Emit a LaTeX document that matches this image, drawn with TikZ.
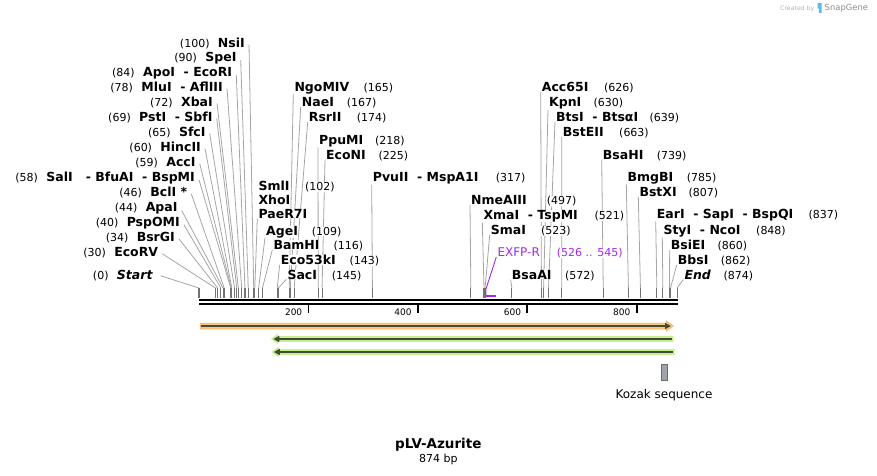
\documentclass[tikz,border=0pt]{standalone}
\usepackage{fontspec}
\setmainfont{DejaVu Sans}
\usepackage{tikz}
\usetikzlibrary{positioning,arrows.meta,backgrounds}

\definecolor{leadgray}{RGB}{165,165,165}
\definecolor{stubgray}{RGB}{115,115,115}
\definecolor{primerpurple}{RGB}{165,40,235}
\definecolor{orangehalo}{RGB}{249,200,125}
\definecolor{orangeedge}{RGB}{240,180,95}
\definecolor{greenhalo}{RGB}{196,240,140}
\definecolor{featline}{RGB}{70,72,62}
\definecolor{kozakgray}{RGB}{160,164,170}
\definecolor{snapblue}{RGB}{95,185,235}

\begin{document}
\begin{tikzpicture}[x=1pt,y=-1pt,
	enz/.style={font=\fontsize{12.5}{14}\selectfont\bfseries,inner sep=0pt,fill=white},
	sitepos/.style={font=\fontsize{11}{13}\selectfont,inner sep=0pt,fill=white},
	lead/.style={leadgray,line width=0.8pt},
	stub/.style={stubgray,line width=1.1pt}]

	\useasboundingbox (0,0) rectangle (877,475);

	% sites, 199 + 0.547 per bp
	\coordinate (s0) at ({199+0.547*0},288);
	\coordinate (s30) at ({199+0.547*30},288);
	\coordinate (s34) at ({199+0.547*34},288);
	\coordinate (s40) at ({199+0.547*40},288);
	\coordinate (s44) at ({199+0.547*44},288);
	\coordinate (s46) at ({199+0.547*46},288);
	\coordinate (s58) at ({199+0.547*58},288);
	\coordinate (s59) at ({199+0.547*59},288);
	\coordinate (s60) at ({199+0.547*60},288);
	\coordinate (s65) at ({199+0.547*65},288);
	\coordinate (s69) at ({199+0.547*69},288);
	\coordinate (s72) at ({199+0.547*72},288);
	\coordinate (s78) at ({199+0.547*78},288);
	\coordinate (s84) at ({199+0.547*84},288);
	\coordinate (s90) at ({199+0.547*90},288);
	\coordinate (s100) at ({199+0.547*100},288);
	\coordinate (s102) at ({199+0.547*102},288);
	\coordinate (s109) at ({199+0.547*109},288);
	\coordinate (s116) at ({199+0.547*116},288);
	\coordinate (s143) at ({199+0.547*143},288);
	\coordinate (s145) at ({199+0.547*145},288);
	\coordinate (s165) at ({199+0.547*165},288);
	\coordinate (s167) at ({199+0.547*167},288);
	\coordinate (s174) at ({199+0.547*174},288);
	\coordinate (s218) at ({199+0.547*218},288);
	\coordinate (s225) at ({199+0.547*225},288);
	\coordinate (s317) at ({199+0.547*317},288);
	\coordinate (s497) at ({199+0.547*497},288);
	\coordinate (s521) at ({199+0.547*521},288);
	\coordinate (s523) at ({199+0.547*523},288);
	\coordinate (s572) at ({199+0.547*572},288);
	\coordinate (s626) at ({199+0.547*626},288);
	\coordinate (s630) at ({199+0.547*630},288);
	\coordinate (s639) at ({199+0.547*639},288);
	\coordinate (s663) at ({199+0.547*663},288);
	\coordinate (s739) at ({199+0.547*739},288);
	\coordinate (s785) at ({199+0.547*785},288);
	\coordinate (s807) at ({199+0.547*807},288);
	\coordinate (s837) at ({199+0.547*837},288);
	\coordinate (s848) at ({199+0.547*848},288);
	\coordinate (s860) at ({199+0.547*860},288);
	\coordinate (s862) at ({199+0.547*862},288);
	\coordinate (s874) at ({199+0.547*874},288);

	\draw[stub] (s0)--++(0,10) (s30)--++(0,10) (s34)--++(0,10) (s40)--++(0,10)
		(s44)--++(0,10) (s46)--++(0,10) (s58)--++(0,10) (s59)--++(0,10)
		(s60)--++(0,10) (s65)--++(0,10) (s69)--++(0,10) (s72)--++(0,10)
		(s78)--++(0,10) (s84)--++(0,10) (s90)--++(0,10) (s100)--++(0,10)
		(s102)--++(0,10) (s109)--++(0,10) (s116)--++(0,10) (s143)--++(0,10)
		(s145)--++(0,10) (s165)--++(0,10) (s167)--++(0,10) (s174)--++(0,10)
		(s218)--++(0,10) (s225)--++(0,10) (s317)--++(0,10) (s497)--++(0,10)
		(s521)--++(0,10) (s523)--++(0,10) (s572)--++(0,10) (s626)--++(0,10)
		(s630)--++(0,10) (s639)--++(0,10) (s663)--++(0,10) (s739)--++(0,10)
		(s785)--++(0,10) (s807)--++(0,10) (s837)--++(0,10) (s848)--++(0,10)
		(s860)--++(0,10) (s862)--++(0,10) (s874)--++(0,10);

	% ruler
	\draw[line width=2pt] (199,300.3) -- (678,300.3);
	\draw[line width=2.6pt] (199,304) -- (678,304);
	\draw[line width=1.8pt] ({199+0.547*200},305) -- ++(0,8)
		({199+0.547*400},305) -- ++(0,8)
		({199+0.547*600},305) -- ++(0,8)
		({199+0.547*800},305) -- ++(0,8);
	\node[font=\fontsize{9}{10}\selectfont,inner sep=0pt,anchor=base east] (t200) at ({193+0.547*200},315.3) {200};
	\node[font=\fontsize{9}{10}\selectfont,inner sep=0pt,anchor=base east] (t400) at ({193+0.547*400},315.3) {400};
	\node[font=\fontsize{9}{10}\selectfont,inner sep=0pt,anchor=base east] (t600) at ({193+0.547*600},315.3) {600};
	\node[font=\fontsize{9}{10}\selectfont,inner sep=0pt,anchor=base east] (t800) at ({193+0.547*800},315.3) {800};

	% left fan
	\node[enz,anchor=base east] (NsiI) at (245,47.2) {NsiI};
	\node[sitepos,base left=8pt of NsiI] (p100) {(100)};
	\node[enz,anchor=base east] (SpeI) at (236.7,61.5) {SpeI};
	\node[sitepos,base left=8pt of SpeI] (p90) {(90)};
	\node[enz,anchor=base east] (ApoI) at (232.3,76.5) {ApoI\ \ - EcoRI};
	\node[sitepos,base left=8pt of ApoI] (p84) {(84)};
	\node[enz,anchor=base east] (MluI) at (223,91.2) {MluI\ \ - AflIII};
	\node[sitepos,base left=8pt of MluI] (p78) {(78)};
	\node[enz,anchor=base east] (XbaI) at (213,106) {XbaI};
	\node[sitepos,base left=8pt of XbaI] (p72) {(72)};
	\node[enz,anchor=base east] (PstI) at (212.7,121.2) {PstI\ \ - SbfI};
	\node[sitepos,base left=8pt of PstI] (p69) {(69)};
	\node[enz,anchor=base east] (SfcI) at (205.7,136.2) {SfcI};
	\node[sitepos,base left=8pt of SfcI] (p65) {(65)};
	\node[enz,anchor=base east] (HincII) at (201,151.2) {HincII};
	\node[sitepos,base left=8pt of HincII] (p60) {(60)};
	\node[enz,anchor=base east] (AccI) at (195.7,166.2) {AccI};
	\node[sitepos,base left=8pt of AccI] (p59) {(59)};
	\node[enz,anchor=base east] (SalI) at (195,181.2) {SalI\ \ \ - BfuAI\ \ - BspMI};
	\node[sitepos,base left=8pt of SalI] (p58) {(58)};
	\node[enz,anchor=base east] (BclI) at (187.3,196.5) {BclI *};
	\node[sitepos,base left=8pt of BclI] (p46) {(46)};
	\node[enz,anchor=base east] (ApaI) at (177.7,211.8) {ApaI};
	\node[sitepos,base left=8pt of ApaI] (p44) {(44)};
	\node[enz,anchor=base east] (PspOMI) at (180,226.2) {PspOMI};
	\node[sitepos,base left=8pt of PspOMI] (p40) {(40)};
	\node[enz,anchor=base east] (BsrGI) at (175,241.5) {BsrGI};
	\node[sitepos,base left=8pt of BsrGI] (p34) {(34)};
	\node[enz,anchor=base east] (EcoRV) at (158.3,256.2) {EcoRV};
	\node[sitepos,base left=8pt of EcoRV] (p30) {(30)};
	\node[enz,anchor=base east] (Start) at (152.7,279.3) {\itshape Start};
	\node[sitepos,base left=8pt of Start] (p0) {(0)};

	% upper sites, name then position
	\node[enz,anchor=base west] (SmlI) at (258.3,190.2) {SmlI};
	\node[sitepos,anchor=base west] (p102) at (305,190.2) {(102)};
	\node[enz,anchor=base west] (XhoI) at (258.3,204) {XhoI};
	\node[enz,anchor=base west] (PaeR7I) at (258.3,218) {PaeR7I};
	\node[enz,anchor=base west] (AgeI) at (266,235) {AgeI};
	\node[sitepos,anchor=base west] (p109) at (311.7,235) {(109)};
	\node[enz,anchor=base west] (BamHI) at (273.3,249.5) {BamHI};
	\node[sitepos,anchor=base west] (p116) at (333.3,249.5) {(116)};
	\node[enz,anchor=base west] (Eco53kI) at (280.7,264.5) {Eco53kI};
	\node[sitepos,anchor=base west] (p143) at (349.3,264.5) {(143)};
	\node[enz,anchor=base west] (SacI) at (287.3,279) {SacI};
	\node[sitepos,anchor=base west] (p145) at (331.7,279) {(145)};
	\node[enz,anchor=base west] (NgoMIV) at (294.3,91.2) {NgoMIV};
	\node[sitepos,anchor=base west] (p165) at (363.3,91.2) {(165)};
	\node[enz,anchor=base west] (NaeI) at (301.7,106.8) {NaeI};
	\node[sitepos,anchor=base west] (p167) at (346.7,106.8) {(167)};
	\node[enz,anchor=base west] (RsrII) at (308.7,121.8) {RsrII};
	\node[sitepos,anchor=base west] (p174) at (356.7,121.8) {(174)};
	\node[enz,anchor=base west] (PpuMI) at (319,144.5) {PpuMI};
	\node[sitepos,anchor=base west] (p218) at (375,144.5) {(218)};
	\node[enz,anchor=base west] (EcoNI) at (326,159.5) {EcoNI};
	\node[sitepos,anchor=base west] (p225) at (378.3,159.5) {(225)};
	\node[enz,anchor=base west] (PvuII) at (372.7,181.8) {PvuII\ \ - MspA1I};
	\node[sitepos,anchor=base west] (p317) at (495.7,181.8) {(317)};
	\node[enz,anchor=base west] (NmeAIII) at (471,204.5) {NmeAIII};
	\node[sitepos,anchor=base west] (p497) at (546.7,204.5) {(497)};
	\node[enz,anchor=base west] (XmaI) at (483.3,219.5) {XmaI\ \ - TspMI};
	\node[sitepos,anchor=base west] (p521) at (594.3,219.5) {(521)};
	\node[enz,anchor=base west] (SmaI) at (490.7,234.5) {SmaI};
	\node[sitepos,anchor=base west] (p523) at (541,234.5) {(523)};
	\node[font=\fontsize{12}{14}\selectfont,inner sep=0pt,fill=white,text=primerpurple,anchor=base west] (EXFPR) at (497.3,256.8) {EXFP-R};
	\node[sitepos,text=primerpurple,anchor=base west] (p526) at (556.7,256.8) {(526 .. 545)};
	\node[enz,anchor=base west] (BsaAI) at (511.7,279.2) {BsaAI};
	\node[sitepos,anchor=base west] (p572) at (565,279.2) {(572)};
	\node[enz,anchor=base west] (Acc65I) at (541.7,91.2) {Acc65I};
	\node[sitepos,anchor=base west] (p626) at (604,91.2) {(626)};
	\node[enz,anchor=base west] (KpnI) at (549,106.8) {KpnI};
	\node[sitepos,anchor=base west] (p630) at (593.3,106.8) {(630)};
	\node[enz,anchor=base west] (BtsI) at (556,121.2) {BtsI\ \ - BtsαI};
	\node[sitepos,anchor=base west] (p639) at (649.3,121.2) {(639)};
	\node[enz,anchor=base west] (BstEII) at (562.7,136.8) {BstEII};
	\node[sitepos,anchor=base west] (p663) at (619,136.8) {(663)};
	\node[enz,anchor=base west] (BsaHI) at (602.7,159.5) {BsaHI};
	\node[sitepos,anchor=base west] (p739) at (656.7,159.5) {(739)};
	\node[enz,anchor=base west] (BmgBI) at (627.3,181.2) {BmgBI};
	\node[sitepos,anchor=base west] (p785) at (686.7,181.2) {(785)};
	\node[enz,anchor=base west] (BstXI) at (639.3,196.2) {BstXI};
	\node[sitepos,anchor=base west] (p807) at (688.3,196.2) {(807)};
	\node[enz,anchor=base west] (EarI) at (656.7,218.5) {EarI\ \ - SapI\ \ - BspQI};
	\node[sitepos,anchor=base west] (p837) at (808.3,218.5) {(837)};
	\node[enz,anchor=base west] (StyI) at (663.3,234.5) {StyI\ \ - NcoI};
	\node[sitepos,anchor=base west] (p848) at (756,234.5) {(848)};
	\node[enz,anchor=base west] (BsiEI) at (670.7,249.5) {BsiEI};
	\node[sitepos,anchor=base west] (p860) at (717.3,249.5) {(860)};
	\node[enz,anchor=base west] (BbsI) at (677.7,264.5) {BbsI};
	\node[sitepos,anchor=base west] (p862) at (720.7,264.5) {(862)};
	\node[enz,anchor=base west] (End) at (684.3,279.3) {\itshape End};
	\node[sitepos,anchor=base west] (p874) at (723.3,279.3) {(874)};

	% leaders go under the labels
	\begin{pgfonlayer}{background}
	\draw[lead] ([xshift=4pt,yshift=-2pt]NsiI.east) -- (s100);
	\draw[lead] ([xshift=4pt,yshift=-2pt]SpeI.east) -- (s90);
	\draw[lead] ([xshift=4pt,yshift=-2pt]ApoI.east) -- (s84);
	\draw[lead] ([xshift=4pt,yshift=-2pt]MluI.east) -- (s78);
	\draw[lead] ([xshift=4pt,yshift=-2pt]XbaI.east) -- (s72);
	\draw[lead] ([xshift=4pt,yshift=-2pt]PstI.east) -- (s69);
	\draw[lead] ([xshift=4pt,yshift=-2pt]SfcI.east) -- (s65);
	\draw[lead] ([xshift=4pt,yshift=-2pt]HincII.east) -- (s60);
	\draw[lead] ([xshift=4pt,yshift=-2pt]AccI.east) -- (s59);
	\draw[lead] ([xshift=4pt,yshift=-2pt]SalI.east) -- (s58);
	\draw[lead] ([xshift=4pt,yshift=-2pt]BclI.east) -- (s46);
	\draw[lead] ([xshift=4pt,yshift=-2pt]ApaI.east) -- (s44);
	\draw[lead] ([xshift=4pt,yshift=-2pt]PspOMI.east) -- (s40);
	\draw[lead] ([xshift=4pt,yshift=-2pt]BsrGI.east) -- (s34);
	\draw[lead] ([xshift=4pt,yshift=-2pt]EcoRV.east) -- (s30);
	\draw[lead] ([xshift=8pt,yshift=-1pt]Start.east) -- (s0);

	\draw[lead] ([xshift=-1pt]PaeR7I.south west) -- (s102);
	\draw[lead] ([xshift=-1pt]AgeI.south west) -- (s109);
	\draw[lead] ([xshift=-1pt]BamHI.south west) -- (s116);
	\draw[lead] ([xshift=-1pt]Eco53kI.south west) -- (s143);
	\draw[lead] ([xshift=-1pt]SacI.south west) -- (s145);
	\draw[lead] ([xshift=-1pt]NgoMIV.south west) -- (s165);
	\draw[lead] ([xshift=-1pt]NaeI.south west) -- (s167);
	\draw[lead] ([xshift=-1pt]RsrII.south west) -- (s174);
	\draw[lead] ([xshift=-1pt]PpuMI.south west) -- (s218);
	\draw[lead] ([xshift=-1pt]EcoNI.south west) -- (s225);
	\draw[lead] ([xshift=-1pt]PvuII.south west) -- (s317);
	\draw[lead] ([xshift=-1pt]NmeAIII.south west) -- (s497);
	\draw[lead] ([xshift=-1pt]XmaI.south west) -- (s521);
	\draw[lead] ([xshift=-1pt]SmaI.south west) -- (s523);
	\draw[lead] ([xshift=-1pt]BsaAI.south west) -- (s572);
	\draw[lead] ([xshift=-1pt]Acc65I.south west) -- (s626);
	\draw[lead] ([xshift=-1pt]KpnI.south west) -- (s630);
	\draw[lead] ([xshift=-1pt]BtsI.south west) -- (s639);
	\draw[lead] ([xshift=-1pt]BstEII.south west) -- (s663);
	\draw[lead] ([xshift=-1pt]BsaHI.south west) -- (s739);
	\draw[lead] ([xshift=-1pt]BmgBI.south west) -- (s785);
	\draw[lead] ([xshift=-1pt]BstXI.south west) -- (s807);
	\draw[lead] ([xshift=-1pt]EarI.south west) -- (s837);
	\draw[lead] ([xshift=-1pt]StyI.south west) -- (s848);
	\draw[lead] ([xshift=-1pt]BsiEI.south west) -- (s860);
	\draw[lead] ([xshift=-1pt]BbsI.south west) -- (s862);
	\draw[lead] ([xshift=-1pt]End.south west) -- (s874);
	\end{pgfonlayer}

	% primer
	\coordinate (EXFPRsite) at (486,289);
	\draw[primerpurple,line width=0.9pt] ([xshift=-1pt]EXFPR.south west) -- (EXFPRsite) -- (486,296);
	\draw[primerpurple,line width=2pt] (485.6,296) -- (496,296);

	% features
	\filldraw[fill=orangehalo,draw=orangeedge,line width=0.5pt]
		(200,323) -- (666,323) -- (666,320.7) -- (673.5,326) -- (666,331.3) -- (666,329) -- (200,329) -- cycle;
	\draw[featline,line width=1.6pt,-{Triangle[length=6pt,width=6pt]}] (201,326) -- (671,326);

	\fill[greenhalo] (271,339) -- (278,333.7) -- (278,336.2) -- (673.3,336.2) -- (673.3,341.8) -- (278,341.8) -- (278,344.3) -- cycle;
	\draw[featline,line width=1.6pt,-{Triangle[length=6pt,width=6pt]}] (671.7,339) -- (273.3,339);

	\fill[greenhalo] (271.5,352) -- (278.5,346.7) -- (278.5,349.2) -- (674.7,349.2) -- (674.7,354.8) -- (278.5,354.8) -- (278.5,357.3) -- cycle;
	\draw[featline,line width=1.6pt,-{Triangle[length=6pt,width=6pt]}] (673,352) -- (273.8,352);

	\filldraw[fill=kozakgray,draw=featline!80,line width=0.6pt] (661,364) rectangle (667.5,380.5);
	\node[font=\fontsize{12}{14}\selectfont,inner sep=0pt,anchor=base] (Kozak) at (664,398.4) {Kozak sequence};

	% name and length
	\node[font=\fontsize{13.5}{16}\selectfont\bfseries,inner sep=0pt,anchor=base] (title) at (438.3,448.3) {pLV-Azurite};
	\node[sitepos,anchor=base] (len) at (438.3,462.7) {874 bp};

	% credit
	\node[font=\fontsize{6.2}{7}\selectfont,inner sep=0pt,anchor=base west,black!30] (credit) at (780,10) {Created by};
	\fill[snapblue] (817.5,3) rectangle (821.5,8.5) (819,8.5) rectangle (821.5,13);
	\node[font=\fontsize{8.4}{9}\selectfont,inner sep=0pt,anchor=base west,black!45] (snap) at (824.5,10.5) {SnapGene};
\end{tikzpicture}
\end{document}
